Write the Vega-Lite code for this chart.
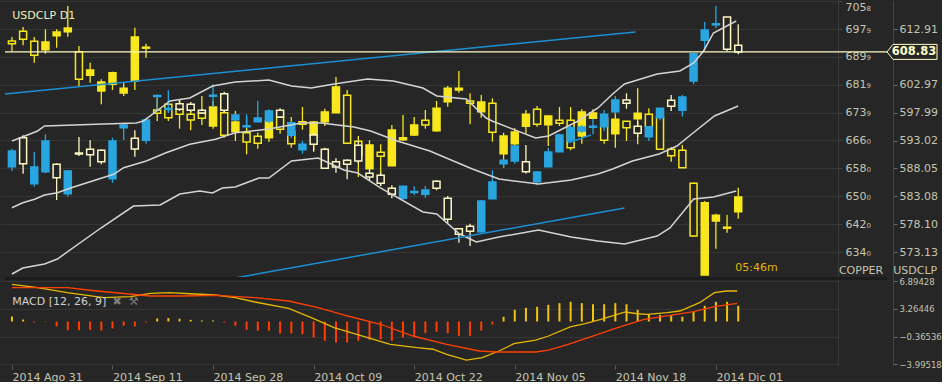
{
"$schema":"https://vega.github.io/schema/vega-lite/v6.json",
"width":838,"height":364,"padding":0,"background":"#262626",
"config":{"view":{"stroke":null},"font":"DejaVu Sans"},
"datasets":{
"usd":[
{"i":0,"o":588.35,"h":591.56,"l":587.58,"c":591.15},
{"i":1,"o":593.52,"h":593.95,"l":587.10,"c":588.88},
{"i":2,"o":585.31,"h":590.97,"l":584.78,"c":588.29},
{"i":3,"o":587.46,"h":594.13,"l":587.22,"c":592.93},
{"i":4,"o":588.78,"h":588.95,"l":582.41,"c":586.38},
{"i":5,"o":583.53,"h":587.76,"l":582.99,"c":587.58},
{"i":6,"o":590.79,"h":593.64,"l":590.26,"c":590.61},
{"i":7,"o":591.45,"h":593.06,"l":588.35,"c":590.49},
{"i":8,"o":591.27,"h":591.45,"l":588.78,"c":589.24},
{"i":9,"o":586.21,"h":593.52,"l":585.49,"c":592.93},
{"i":10,"o":595.30,"h":596.20,"l":593.11,"c":595.79},
{"i":11,"o":593.41,"h":594.84,"l":590.13,"c":591.50},
{"i":12,"o":593.06,"h":597.09,"l":592.45,"c":596.68},
{"i":13,"o":600.87,"h":601.23,"l":598.28,"c":601.05},
{"i":14,"o":598.55,"h":601.98,"l":597.93,"c":598.73},
{"i":15,"o":599.59,"h":600.37,"l":598.28,"c":598.59},
{"i":16,"o":599.48,"h":599.89,"l":598.11,"c":598.41},
{"i":17,"o":598.41,"h":598.64,"l":597.75,"c":597.93},
{"i":18,"o":600.92,"h":603.05,"l":599.00,"c":601.10},
{"i":19,"o":601.37,"h":601.73,"l":598.11,"c":598.41},
{"i":20,"o":596.73,"h":597.80,"l":596.50,"c":597.57},
{"i":21,"o":595.47,"h":597.69,"l":595.25,"c":595.64},
{"i":22,"o":596.37,"h":600.07,"l":596.32,"c":597.03},
{"i":23,"o":596.50,"h":598.59,"l":596.14,"c":598.28},
{"i":24,"o":598.41,"h":598.77,"l":597.03,"c":597.21},
{"i":25,"o":593.95,"h":596.50,"l":593.47,"c":596.20},
{"i":26,"o":591.38,"h":592.93,"l":590.67,"c":592.34},
{"i":27,"o":594.00,"h":594.36,"l":591.02,"c":592.34},
{"i":28,"o":591.45,"h":591.74,"l":587.94,"c":588.06},
{"i":29,"o":589.24,"h":589.85,"l":587.28,"c":588.29},
{"i":30,"o":589.49,"h":589.67,"l":586.10,"c":588.78},
{"i":31,"o":592.16,"h":592.93,"l":589.01,"c":589.36},
{"i":32,"o":587.17,"h":587.99,"l":585.80,"c":586.51},
{"i":33,"o":586.81,"h":587.28,"l":584.90,"c":585.39},
{"i":34,"o":584.49,"h":585.03,"l":582.71,"c":583.42},
{"i":35,"o":582.71,"h":584.90,"l":582.35,"c":584.85},
{"i":36,"o":583.74,"h":584.85,"l":583.30,"c":583.92},
{"i":37,"o":583.42,"h":584.90,"l":582.82,"c":584.19},
{"i":38,"o":585.74,"h":585.92,"l":584.14,"c":584.49},
{"i":39,"o":582.71,"h":583.12,"l":578.36,"c":578.96},
{"i":40,"o":577.29,"h":577.41,"l":574.79,"c":576.29},
{"i":41,"o":577.72,"h":578.18,"l":574.20,"c":576.82},
{"i":42,"o":576.75,"h":582.41,"l":576.61,"c":582.23},
{"i":43,"o":582.64,"h":587.71,"l":582.53,"c":585.62},
{"i":44,"o":588.88,"h":589.60,"l":588.17,"c":589.49},
{"i":45,"o":589.36,"h":592.09,"l":588.88,"c":592.04},
{"i":46,"o":589.24,"h":592.22,"l":587.13,"c":587.46},
{"i":47,"o":585.67,"h":587.58,"l":585.03,"c":587.40},
{"i":48,"o":588.35,"h":591.74,"l":588.29,"c":590.97},
{"i":49,"o":591.02,"h":594.23,"l":590.97,"c":594.00},
{"i":50,"o":592.93,"h":595.61,"l":592.63,"c":595.30},
{"i":51,"o":594.72,"h":595.79,"l":594.36,"c":595.43},
{"i":52,"o":595.39,"h":596.91,"l":594.13,"c":595.57},
{"i":53,"o":595.48,"h":598.46,"l":594.72,"c":597.69},
{"i":54,"o":598.16,"h":600.96,"l":597.69,"c":600.25},
{"i":55,"o":600.25,"h":601.44,"l":598.69,"c":599.66},
{"i":56,"o":595.55,"h":596.50,"l":593.65,"c":594.31},
{"i":57,"o":593.70,"h":595.55,"l":592.93,"c":595.48},
{"i":58,"o":597.09,"h":598.82,"l":596.62,"c":598.77},
{"i":59,"o":600.19,"h":601.14,"l":598.28,"c":599.12},
{"i":60,"o":598.41,"h":601.14,"l":597.27,"c":600.78},
{"i":61,"o":603.63,"h":608.54,"l":603.05,"c":608.50},
{"i":62,"o":610.90,"h":614.16,"l":609.29,"c":612.73},
{"i":63,"o":613.66,"h":617.01,"l":613.04,"c":613.84},
{"i":64,"o":615.05,"h":615.11,"l":608.99,"c":609.29},
{"i":65,"o":610.00,"h":613.75,"l":608.40,"c":608.83}
],
"cu":[
{"i":0,"o":694.46,"h":695.61,"l":691.60,"c":693.69},
{"i":1,"o":697.24,"h":698.47,"l":693.23,"c":694.95},
{"i":2,"o":694.38,"h":695.61,"l":688.24,"c":690.36},
{"i":3,"o":691.97,"h":697.82,"l":690.82,"c":694.18},
{"i":4,"o":695.98,"h":697.82,"l":692.54,"c":697.04},
{"i":5,"o":697.13,"h":704.49,"l":695.69,"c":698.19},
{"i":6,"o":691.40,"h":693.03,"l":681.57,"c":683.49},
{"i":7,"o":684.63,"h":688.24,"l":682.51,"c":686.15},
{"i":8,"o":680.13,"h":683.49,"l":676.32,"c":682.71},
{"i":9,"o":682.05,"h":685.67,"l":680.42,"c":685.38},
{"i":10,"o":679.56,"h":682.51,"l":678.70,"c":680.91},
{"i":11,"o":683.00,"h":698.27,"l":680.42,"c":695.61},
{"i":12,"o":692.69,"h":693.69,"l":689.68,"c":692.40},
{"i":13,"o":674.69,"h":678.21,"l":671.54,"c":673.74},
{"i":14,"o":676.32,"h":677.27,"l":671.54,"c":672.48},
{"i":15,"o":674.89,"h":677.76,"l":669.33,"c":673.46},
{"i":16,"o":673.46,"h":674.60,"l":668.87,"c":671.83},
{"i":17,"o":673.83,"h":678.70,"l":670.39,"c":672.31},
{"i":18,"o":670.11,"h":677.27,"l":669.33,"c":675.55},
{"i":19,"o":673.92,"h":677.56,"l":666.75,"c":667.44},
{"i":20,"o":668.47,"h":674.40,"l":665.81,"c":671.25},
{"i":21,"o":668.19,"h":672.68,"l":662.00,"c":665.52},
{"i":22,"o":667.15,"h":668.19,"l":663.60,"c":665.15},
{"i":23,"o":666.75,"h":673.46,"l":665.52,"c":671.54},
{"i":24,"o":672.68,"h":673.46,"l":667.90,"c":669.16},
{"i":25,"o":668.47,"h":672.68,"l":663.89,"c":665.03},
{"i":26,"o":671.34,"h":675.55,"l":669.05,"c":670.59},
{"i":27,"o":667.53,"h":671.54,"l":662.94,"c":671.25},
{"i":28,"o":671.34,"h":675.06,"l":670.11,"c":674.12},
{"i":29,"o":673.92,"h":684.15,"l":673.83,"c":681.28},
{"i":30,"o":678.90,"h":680.42,"l":664.95,"c":665.15},
{"i":31,"o":665.72,"h":667.24,"l":655.49,"c":661.80},
{"i":32,"o":657.87,"h":666.01,"l":657.78,"c":664.66},
{"i":33,"o":662.57,"h":664.86,"l":652.91,"c":661.42},
{"i":34,"o":658.73,"h":670.39,"l":658.64,"c":668.96},
{"i":35,"o":666.18,"h":673.26,"l":665.81,"c":666.75},
{"i":36,"o":667.53,"h":672.68,"l":667.24,"c":670.39},
{"i":37,"o":671.74,"h":674.69,"l":669.33,"c":670.39},
{"i":38,"o":668.76,"h":677.27,"l":668.47,"c":675.18},
{"i":39,"o":677.07,"h":681.57,"l":675.64,"c":680.91},
{"i":40,"o":680.42,"h":685.87,"l":679.65,"c":680.91},
{"i":41,"o":677.27,"h":679.48,"l":670.59,"c":676.61},
{"i":42,"o":674.20,"h":678.99,"l":672.48,"c":676.98},
{"i":43,"o":676.61,"h":678.04,"l":665.61,"c":668.30},
{"i":44,"o":662.17,"h":668.19,"l":658.16,"c":667.24},
{"i":45,"o":665.03,"h":669.45,"l":664.09,"c":668.39},
{"i":46,"o":670.02,"h":674.69,"l":667.90,"c":673.46},
{"i":47,"o":674.89,"h":675.84,"l":669.91,"c":670.59},
{"i":48,"o":670.48,"h":673.11,"l":664.37,"c":672.97},
{"i":49,"o":671.74,"h":675.55,"l":670.11,"c":670.88},
{"i":50,"o":671.74,"h":675.55,"l":663.14,"c":663.89},
{"i":51,"o":667.24,"h":674.89,"l":665.03,"c":674.12},
{"i":52,"o":672.31,"h":674.89,"l":672.11,"c":673.83},
{"i":53,"o":672.31,"h":672.40,"l":665.03,"c":666.01},
{"i":54,"o":667.90,"h":674.40,"l":663.89,"c":672.03},
{"i":55,"o":671.45,"h":671.54,"l":665.81,"c":669.62},
{"i":56,"o":672.20,"h":680.91,"l":664.86,"c":673.74},
{"i":57,"o":673.46,"h":675.18,"l":669.82,"c":669.91},
{"i":58,"o":672.77,"h":673.46,"l":663.31,"c":663.43},
{"i":59,"o":663.43,"h":664.09,"l":659.88,"c":661.60},
{"i":60,"o":663.14,"h":664.66,"l":658.07,"c":658.16},
{"i":61,"o":653.69,"h":653.86,"l":638.30,"c":638.59},
{"i":62,"o":627.41,"h":648.61,"l":627.41,"c":648.13},
{"i":63,"o":642.88,"h":644.98,"l":634.95,"c":644.52},
{"i":64,"o":640.82,"h":644.60,"l":639.53,"c":641.11},
{"i":65,"o":645.55,"h":652.43,"l":643.54,"c":649.76}
],
"bands":[
{"b":"up","i":0,"v":592.93},{"b":"up","i":2.30,"v":594.72},{"b":"up","i":2.92,"v":595.61},{"b":"up","i":8.22,"v":595.96},{"b":"up","i":11.14,"v":596.14},{"b":"up","i":11.76,"v":596.50},{"b":"up","i":14.15,"v":600.07},{"b":"up","i":15.92,"v":600.60},{"b":"up","i":17.95,"v":602.74},{"b":"up","i":19.98,"v":603.46},{"b":"up","i":22.99,"v":603.81},{"b":"up","i":25.02,"v":602.74},{"b":"up","i":26.79,"v":602.39},{"b":"up","i":28.83,"v":603.10},{"b":"up","i":31.83,"v":603.99},{"b":"up","i":34.13,"v":603.63},{"b":"up","i":36.78,"v":602.39},{"b":"up","i":38.02,"v":600.96},{"b":"up","i":40.67,"v":600.42},{"b":"up","i":42.44,"v":597.03},{"b":"up","i":42.97,"v":596.50},{"b":"up","i":46.87,"v":593.47},{"b":"up","i":48.02,"v":593.82},{"b":"up","i":50.67,"v":596.50},{"b":"up","i":52.44,"v":598.82},{"b":"up","i":53.76,"v":601.32},{"b":"up","i":54.82,"v":603.10},{"b":"up","i":57.74,"v":604.88},{"b":"up","i":59.78,"v":605.42},{"b":"up","i":61.01,"v":606.85},{"b":"up","i":61.90,"v":608.99},{"b":"up","i":62.78,"v":612.20},{"b":"up","i":64.82,"v":614.34},
{"b":"mid","i":0,"v":581.03},{"b":"mid","i":0.97,"v":581.92},{"b":"mid","i":2.03,"v":582.53},{"b":"mid","i":2.92,"v":583.30},{"b":"mid","i":4.07,"v":583.71},{"b":"mid","i":5.31,"v":584.60},{"b":"mid","i":9.11,"v":586.99},{"b":"mid","i":10.0,"v":588.17},{"b":"mid","i":12.03,"v":589.36},{"b":"mid","i":13.79,"v":590.84},{"b":"mid","i":15.92,"v":592.34},{"b":"mid","i":18.22,"v":593.23},{"b":"mid","i":19.98,"v":594.41},{"b":"mid","i":22.99,"v":595.07},{"b":"mid","i":25.91,"v":596.14},{"b":"mid","i":27.68,"v":596.14},{"b":"mid","i":30.60,"v":595.43},{"b":"mid","i":32.10,"v":594.71},{"b":"mid","i":34.49,"v":592.93},{"b":"mid","i":37.40,"v":591.15},{"b":"mid","i":41.21,"v":587.94},{"b":"mid","i":43.59,"v":586.15},{"b":"mid","i":47.13,"v":585.26},{"b":"mid","i":50.05,"v":585.97},{"b":"mid","i":52.44,"v":587.05},{"b":"mid","i":53.76,"v":587.94},{"b":"mid","i":55.53,"v":589.36},{"b":"mid","i":57.92,"v":590.61},{"b":"mid","i":59.51,"v":592.04},{"b":"mid","i":60.84,"v":594.18},{"b":"mid","i":62.87,"v":597.39},{"b":"mid","i":64.99,"v":599.18},
{"b":"low","i":0,"v":569.21},{"b":"low","i":0.97,"v":570.28},{"b":"low","i":2.92,"v":570.99},{"b":"low","i":4.07,"v":571.88},{"b":"low","i":7.96,"v":577.41},{"b":"low","i":10.88,"v":581.33},{"b":"low","i":13.26,"v":581.51},{"b":"low","i":15.03,"v":583.48},{"b":"low","i":16.80,"v":584.01},{"b":"low","i":17.95,"v":583.65},{"b":"low","i":18.83,"v":584.55},{"b":"low","i":19.98,"v":584.72},{"b":"low","i":22.11,"v":586.33},{"b":"low","i":22.99,"v":586.33},{"b":"low","i":25.02,"v":589.36},{"b":"low","i":27.41,"v":589.90},{"b":"low","i":29.71,"v":587.76},{"b":"low","i":30.95,"v":587.22},{"b":"low","i":32.98,"v":584.55},{"b":"low","i":36.78,"v":580.27},{"b":"low","i":38.02,"v":579.91},{"b":"low","i":40.06,"v":576.34},{"b":"low","i":41.56,"v":574.91},{"b":"low","i":43.59,"v":575.81},{"b":"low","i":47.13,"v":577.05},{"b":"low","i":50.05,"v":575.81},{"b":"low","i":52.44,"v":575.09},{"b":"low","i":54.82,"v":574.56},{"b":"low","i":57.74,"v":575.98},{"b":"low","i":58.89,"v":577.41},{"b":"low","i":61.01,"v":582.58},{"b":"low","i":62.78,"v":582.94},{"b":"low","i":64.82,"v":584.01}
],
"trend":[
{"i":-0.62,"i2":55.80,"v":601.32,"v2":612.38},
{"i":20.0,"i2":54.82,"v":568.51,"v2":580.98},
{"i":49.78,"i2":51.82,"v":592.63,"v2":594.00}
],
"macd":[
{"s":"macd","i":0,"v":6.52},{"s":"macd","i":2.30,"v":6.08},{"s":"macd","i":4.95,"v":5.42},{"s":"macd","i":8.22,"v":4.76},{"s":"macd","i":10.61,"v":4.89},{"s":"macd","i":12.38,"v":5.34},{"s":"macd","i":14.15,"v":5.42},{"s":"macd","i":15.92,"v":5.28},{"s":"macd","i":18.22,"v":5.11},{"s":"macd","i":19.98,"v":4.76},{"s":"macd","i":21.75,"v":4.19},{"s":"macd","i":24.76,"v":3.36},{"s":"macd","i":26.79,"v":2.12},{"s":"macd","i":28.83,"v":0.80},{"s":"macd","i":31.83,"v":-0.52},{"s":"macd","i":33.87,"v":-1.40},{"s":"macd","i":36.25,"v":-1.84},{"s":"macd","i":37.67,"v":-2.05},{"s":"macd","i":38.91,"v":-2.71},{"s":"macd","i":40.67,"v":-3.47},{"s":"macd","i":42.09,"v":-3.16},{"s":"macd","i":43.59,"v":-2.28},{"s":"macd","i":44.92,"v":-1.32},{"s":"macd","i":46.87,"v":-0.83},{"s":"macd","i":48.02,"v":-0.30},{"s":"macd","i":49.96,"v":0.89},{"s":"macd","i":51.29,"v":1.32},{"s":"macd","i":52.70,"v":1.90},{"s":"macd","i":53.94,"v":2.47},{"s":"macd","i":54.91,"v":2.87},{"s":"macd","i":55.97,"v":2.64},{"s":"macd","i":56.86,"v":2.56},{"s":"macd","i":58.63,"v":2.78},{"s":"macd","i":59.78,"v":3.00},{"s":"macd","i":61.54,"v":4.10},{"s":"macd","i":62.87,"v":5.42},{"s":"macd","i":63.93,"v":5.64},{"s":"macd","i":64.90,"v":5.64},
{"s":"signal","i":0,"v":6.08},{"s":"signal","i":4.95,"v":6.08},{"s":"signal","i":7.60,"v":5.64},{"s":"signal","i":12.38,"v":4.98},{"s":"signal","i":15.30,"v":4.98},{"s":"signal","i":18.22,"v":5.07},{"s":"signal","i":21.75,"v":4.76},{"s":"signal","i":24.76,"v":4.32},{"s":"signal","i":27.41,"v":3.44},{"s":"signal","i":30.06,"v":2.34},{"s":"signal","i":32.98,"v":1.25},{"s":"signal","i":35.90,"v":-0.30},{"s":"signal","i":38.91,"v":-1.40},{"s":"signal","i":41.83,"v":-2.28},{"s":"signal","i":43.33,"v":-2.41},{"s":"signal","i":46.87,"v":-2.41},{"s":"signal","i":48.02,"v":-2.15},{"s":"signal","i":49.78,"v":-1.40},{"s":"signal","i":52.17,"v":-0.21},{"s":"signal","i":54.20,"v":0.80},{"s":"signal","i":56.59,"v":1.90},{"s":"signal","i":58.89,"v":2.43},{"s":"signal","i":61.01,"v":2.91},{"s":"signal","i":62.87,"v":3.57},{"s":"signal","i":64.90,"v":4.02}
],
"hist":[
{"i":0,"h":0.66},{"i":1,"h":0.26},{"i":2,"h":-0.13},{"i":3,"h":-0.05},{"i":4,"h":-0.66},{"i":5,"h":-1.15},{"i":6,"h":-1.15},{"i":7,"h":-1.10},{"i":8,"h":-1.19},{"i":9,"h":-0.92},{"i":10,"h":-0.57},{"i":11,"h":-0.66},{"i":12,"h":-0.13},{"i":13,"h":0.40},{"i":14,"h":0.44},{"i":15,"h":0.36},{"i":16,"h":0.22},{"i":17,"h":0.13},{"i":18,"h":0.13},{"i":19,"h":-0.13},{"i":20,"h":-0.57},{"i":21,"h":-1.10},{"i":22,"h":-1.23},{"i":23,"h":-1.23},{"i":24,"h":-1.58},{"i":25,"h":-1.58},{"i":26,"h":-1.68},{"i":27,"h":-2.11},{"i":28,"h":-2.55},{"i":29,"h":-2.77},{"i":30,"h":-2.77},{"i":31,"h":-2.55},{"i":32,"h":-2.42},{"i":33,"h":-2.34},{"i":34,"h":-2.55},{"i":35,"h":-2.11},{"i":36,"h":-1.89},{"i":37,"h":-1.54},{"i":38,"h":-1.36},{"i":39,"h":-1.54},{"i":40,"h":-1.89},{"i":41,"h":-1.89},{"i":42,"h":-1.19},{"i":43,"h":-0.40},{"i":44,"h":0.62},{"i":45,"h":1.54},{"i":46,"h":1.81},{"i":47,"h":1.94},{"i":48,"h":2.20},{"i":49,"h":2.42},{"i":50,"h":2.60},{"i":51,"h":2.42},{"i":52,"h":2.28},{"i":53,"h":2.28},{"i":54,"h":2.42},{"i":55,"h":2.28},{"i":56,"h":1.54},{"i":57,"h":0.96},{"i":58,"h":0.88},{"i":59,"h":0.83},{"i":60,"h":0.62},{"i":61,"h":1.32},{"i":62,"h":2.07},{"i":63,"h":2.60},{"i":64,"h":2.60},{"i":65,"h":2.07}
],
"price":[{"p":608.83}],
"notes":[
{"t":"USDCLP D1","x":0.03,"y":615.23},
{"t":"05:46m","x":64.73,"y":570.28},
{"t":"COPPER","x":74.01,"y":569.74},
{"t":"USDCLP","x":78.87,"y":569.74}
],
"mnotes":[
{"t":"MACD [12, 26, 9]","x":0.03,"y":4.19},
{"t":"✖","x":9.0,"y":4.19},
{"t":"⚒","x":10.45,"y":4.19}
]
},
"layer":[
 {"data":{"name":"cu"},"mark":{"type":"rule","strokeWidth":1.3,"color":"#f8e71c"},
  "encoding":{
   "x":{"field":"i","type":"quantitative","scale":{"domain":[-0.62,73.48],"nice":false,"zero":false},
    "axis":{"values":[0,9,18,27,36,45,54,63],"labelExpr":"datum.value < 4 ? '2014 Ago 31' : datum.value < 13 ? '2014 Sep 11' : datum.value < 22 ? '2014 Sep 28' : datum.value < 31 ? '2014 Oct 09' : datum.value < 40 ? '2014 Oct 22' : datum.value < 49 ? '2014 Nov 05' : datum.value < 58 ? '2014 Nov 18' : '2014 Dic 01'","labelAlign":"left","labelColor":"#c4c4b0","labelFontSize":11,"labelPadding":2,"tickSize":4,"tickColor":"#5a5a5a","domain":false,"grid":false,"title":null,"labelOverlap":false}},
   "y":{"field":"l","type":"quantitative","scale":{"domain":[601.62,705.924],"nice":false,"zero":false},
    "axis":{"orient":"right","offset":0,"values":[634,642,650,658,666,673.9,681.9,689.9,697.9,705.8],"labelExpr":"floor(datum.value) + ['₀','₁','₂','₃','₄','₅','₆','₇','₈','₉'][round((datum.value - floor(datum.value)) * 10)]","labelFlush":2,"labelColor":"#c4c4b0","labelFontSize":11,"labelPadding":3,"tickSize":4,"tickColor":"#444444","domainColor":"#3a3a3a","grid":true,"gridColor":"#353535","title":null,"labelOverlap":false}},
   "y2":{"field":"h"}}},
 {"data":{"name":"cu"},"mark":{"type":"bar","size":7,"strokeWidth":1.5,"stroke":"#f8e71c"},
  "encoding":{
   "x":{"field":"i","type":"quantitative"},
   "y":{"field":"o","type":"quantitative","scale":{"domain":[601.62,705.924],"nice":false,"zero":false},"axis":null},"y2":{"field":"c"},
   "fill":{"condition":{"test":"datum.c > datum.o","value":"#f8e71c"},"value":"#262626"}}},
 {"data":{"name":"usd"},"mark":{"type":"rule","strokeWidth":1.3},
  "encoding":{
   "x":{"field":"i","type":"quantitative"},
   "y":{"field":"l","type":"quantitative","scale":{"domain":[552.972,617.906],"nice":false,"zero":false},
    "axis":{"orient":"right","offset":55,"values":[573.13,578.10,583.08,588.05,593.02,597.99,602.97,612.91],"format":".2f","labelColor":"#c4c4b0","labelFontSize":11,"labelPadding":2,"tickSize":4,"tickColor":"#6a6a6a","domainColor":"#444444","grid":false,"title":null,"labelOverlap":false}},
   "y2":{"field":"h"},
   "stroke":{"condition":{"test":"datum.c > datum.o","value":"#29a5e0"},"value":"#fdf8c2"}}},
 {"data":{"name":"usd"},"mark":{"type":"bar","size":7,"strokeWidth":1.5},
  "encoding":{
   "x":{"field":"i","type":"quantitative"},
   "y":{"field":"o","type":"quantitative","scale":{"domain":[552.972,617.906],"nice":false,"zero":false},"axis":null},"y2":{"field":"c"},
   "fill":{"condition":{"test":"datum.c > datum.o","value":"#29a5e0"},"value":"#262626"},
   "stroke":{"condition":{"test":"datum.c > datum.o","value":"#29a5e0"},"value":"#fdf8c2"}}},
 {"data":{"name":"bands"},"mark":{"type":"line","strokeWidth":1.5,"color":"#d4d4d4","clip":true},
  "encoding":{
   "x":{"field":"i","type":"quantitative"},
   "y":{"field":"v","type":"quantitative","scale":{"domain":[552.972,617.906],"nice":false,"zero":false},"axis":null},"detail":{"field":"b"}}},
 {"data":{"name":"trend"},"mark":{"type":"rule","strokeWidth":1.5,"color":"#1b8fd2","clip":true},
  "encoding":{
   "x":{"field":"i","type":"quantitative"},"x2":{"field":"i2"},
   "y":{"field":"v","type":"quantitative","scale":{"domain":[552.972,617.906],"nice":false,"zero":false},"axis":null},"y2":{"field":"v2"}}},
 {"data":{"name":"price"},"mark":{"type":"rule","strokeWidth":1.3,"color":"#fffcc4"},
  "encoding":{
   "x":{"datum":-0.62},"x2":{"datum":78.34},
   "y":{"field":"p","type":"quantitative","scale":{"domain":[552.972,617.906],"nice":false,"zero":false},"axis":null}}},
 {"data":{"name":"price"},"mark":{"type":"point","shape":"M-1,0L-0.76,-0.3L1,-0.3L1,0.3L-0.76,0.3Z","size":2500,"filled":true,"fill":"#262626","stroke":"#fffcc4","strokeWidth":1,"opacity":1},
  "encoding":{
   "x":{"datum":80.55},
   "y":{"field":"p","type":"quantitative","scale":{"domain":[552.972,617.906],"nice":false,"zero":false},"axis":null}}},
 {"data":{"name":"price"},"mark":{"type":"text","fontWeight":"bold","fontSize":11.5,"color":"#fffcc4","align":"center","baseline":"middle"},
  "encoding":{
   "x":{"datum":80.73},
   "y":{"field":"p","type":"quantitative","scale":{"domain":[552.972,617.906],"nice":false,"zero":false},"axis":null},
   "text":{"field":"p","format":".2f"}}},
 {"data":{"name":"notes"},"mark":{"type":"text","align":"left","baseline":"middle","fontSize":11},
  "encoding":{
   "x":{"field":"x","type":"quantitative"},
   "y":{"field":"y","type":"quantitative","scale":{"domain":[552.972,617.906],"nice":false,"zero":false},"axis":null},
   "text":{"field":"t"},
   "color":{"field":"t","type":"nominal","scale":{"domain":["USDCLP D1","05:46m","COPPER","USDCLP"],"range":["#f2eebb","#e3b505","#c4c4b0","#c4c4b0"]},"legend":null}}},
 {"data":{"name":"hist"},"mark":{"type":"rule","strokeWidth":2},
  "encoding":{
   "x":{"field":"i","type":"quantitative"},
   "y":{"field":"h","type":"quantitative","scale":{"domain":[-5.7417,42.304],"nice":false,"zero":false},"axis":null},"y2":{"datum":0},
   "stroke":{"condition":{"test":"datum.h > 0","value":"#f2c40c"},"value":"#ff3d00"}}},
 {"data":{"name":"macd"},"mark":{"type":"line","strokeWidth":1.3,"clip":true},
  "encoding":{
   "x":{"field":"i","type":"quantitative"},
   "y":{"field":"v","type":"quantitative","scale":{"domain":[-4.1271,43.918],"nice":false,"zero":false},
    "axis":{"orient":"right","offset":55,"values":[6.89428,3.26446,-0.36536,-3.99518],"format":".5f","labelColor":"#c4c4b0","labelFontSize":8.5,"labelPadding":2,"tickSize":4,"tickColor":"#6a6a6a","domainColor":"#444444","grid":true,"gridColor":"#353535","title":null,"labelOverlap":false}},
   "stroke":{"field":"s","type":"nominal","scale":{"domain":["macd","signal"],"range":["#e6b800","#ff4000"]},"legend":null}}},
 {"data":{"name":"price"},"mark":{"type":"rule","strokeWidth":3,"color":"#1c1c1c"},
  "encoding":{
   "x":{"datum":-0.62},"x2":{"datum":78.34},
   "y":{"datum":7.29,"scale":{"domain":[-4.1271,43.918],"nice":false,"zero":false},"axis":null}}},
 {"data":{"name":"mnotes"},"mark":{"type":"text","align":"left","baseline":"middle","fontSize":11},
  "encoding":{
   "x":{"field":"x","type":"quantitative"},
   "y":{"field":"y","type":"quantitative","scale":{"domain":[-4.1271,43.918],"nice":false,"zero":false},"axis":null},
   "text":{"field":"t"},
   "color":{"field":"t","type":"nominal","scale":{"domain":["MACD [12, 26, 9]","✖","⚒"],"range":["#d0d0d0","#7d7d7d","#7d7d7d"]},"legend":null}}}
],
"resolve":{"scale":{"y":"independent","color":"independent","stroke":"independent"}}
}
